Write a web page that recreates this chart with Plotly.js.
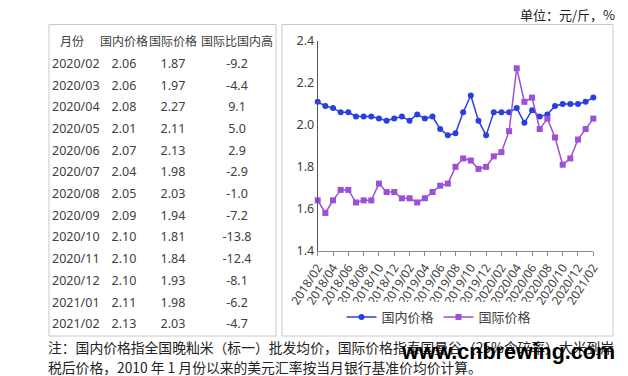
<!DOCTYPE html>
<html>
<head>
<meta charset="utf-8">
<script src="https://cdn.plot.ly/plotly-3.0.1.min.js"></script>
<style>html,body{margin:0;padding:0;background:#fff;}#chart{width:628px;height:376px;}</style>
</head>
<body>
<div id="chart"></div>
<script>
// ---- chart data ----
const months = ['2018/02','2018/03','2018/04','2018/05','2018/06','2018/07','2018/08','2018/09','2018/10','2018/11','2018/12',
  '2019/01','2019/02','2019/03','2019/04','2019/05','2019/06','2019/07','2019/08','2019/09','2019/10','2019/11','2019/12',
  '2020/01','2020/02','2020/03','2020/04','2020/05','2020/06','2020/07','2020/08','2020/09','2020/10','2020/11','2020/12',
  '2021/01','2021/02'];
const domestic = [2.11,2.09,2.08,2.06,2.06,2.04,2.04,2.04,2.03,2.02,2.03,
  2.04,2.02,2.05,2.03,2.04,1.98,1.95,1.96,2.06,2.14,2.02,1.95,
  2.06,2.06,2.06,2.08,2.01,2.07,2.04,2.05,2.09,2.10,2.10,2.10,
  2.11,2.13];
const international = [1.64,1.58,1.64,1.69,1.69,1.63,1.64,1.64,1.72,1.68,1.68,
  1.65,1.65,1.63,1.65,1.68,1.71,1.72,1.80,1.84,1.83,1.79,1.80,
  1.85,1.87,1.97,2.27,2.11,2.13,1.98,2.03,1.94,1.81,1.84,1.93,
  1.98,2.03];
const tickMonths = ['2018/02','2018/04','2018/06','2018/08','2018/10','2018/12','2019/02','2019/04','2019/06','2019/08',
  '2019/10','2019/12','2020/02','2020/04','2020/06','2020/08','2020/10','2020/12','2021/02'];

// ---- table data ----
const tableHeader = ['月份','国内价格','国际价格','国际比国内高'];
const tableMonth = ['2020/02','2020/03','2020/04','2020/05','2020/06','2020/07','2020/08','2020/09','2020/10','2020/11','2020/12','2021/01','2021/02'];
const tableDomestic = ['2.06','2.06','2.08','2.01','2.07','2.04','2.05','2.09','2.10','2.10','2.10','2.11','2.13'];
const tableIntl = ['1.87','1.97','2.27','2.11','2.13','1.98','2.03','1.94','1.81','1.84','1.93','1.98','2.03'];
const tableDiff = ['-9.2','-4.4','9.1','5.0','2.9','-2.9','-1.0','-7.2','-13.8','-12.4','-8.1','-6.2','-4.7'];

const seriesNames = ['国内价格','国际价格'];
const unitText = '单位：元/斤，%';
const noteLine1 = '注：国内价格指全国晚籼米（标一）批发均价，国际价格指泰国曼谷（25%含碎率）大米到岸';
const noteLine2 = '税后价格，2010 年 1 月份以来的美元汇率按当月银行基准价均价计算。';
const watermark = 'www.cnbrewing.com';

const W = 628, H = 376;
const px = v => v / W, py = v => 1 - v / H;

const sans = 'Noto Sans, "Noto Sans CJK SC", sans-serif';
const cjk = '"Noto Sans CJK SC", sans-serif';
const blue = '#2b3ee0', purple = '#9d4fd8';

const traces = [
  {
    type: 'table',
    domain: {x: [px(44), px(276)], y: [py(345), py(29)]},
    columnwidth: [56, 48, 50, 78],
    header: {
      values: tableHeader,
      align: ['center','center','center','center'],
      height: 21.5,
      font: {family: sans, size: 12, color: '#404040'},
      fill: {color: 'white'},
      line: {color: 'white', width: 0}
    },
    cells: {
      values: [tableMonth, tableDomestic, tableIntl, tableDiff],
      align: ['left','center','center','center'],
      height: 21.7,
      font: {family: sans, size: 12.5, color: '#404040'},
      fill: {color: 'white'},
      line: {color: 'white', width: 0}
    }
  },
  {
    type: 'scatter', mode: 'lines+markers', name: seriesNames[0],
    x: months, y: domestic, cliponaxis: false,
    line: {color: blue, width: 1.5},
    marker: {color: blue, size: 6, symbol: 'circle'}
  },
  {
    type: 'scatter', mode: 'lines+markers', name: seriesNames[1],
    x: months, y: international, cliponaxis: false,
    line: {color: purple, width: 1.5},
    marker: {color: purple, size: 6, symbol: 'square'}
  }
];

const layout = {
  width: W, height: H,
  margin: {l: 0, r: 0, t: 0, b: 0},
  paper_bgcolor: 'white', plot_bgcolor: 'white',
  showlegend: true,
  legend: {
    orientation: 'h', x: px(439), y: py(317), xanchor: 'center', yanchor: 'middle',
    font: {family: sans, size: 13, color: '#404040'}, itemwidth: 30, tracegroupgap: 0
  },
  xaxis: {
    domain: [px(317.7), px(593.3)],
    type: 'category', range: [0, 36],
    tickmode: 'array', tickvals: tickMonths, ticktext: tickMonths,
    tickangle: -57, ticks: 'outside', ticklen: 4, tickcolor: '#888',
    showline: true, linecolor: '#888', linewidth: 1,
    showgrid: false, zeroline: false,
    tickfont: {family: sans, size: 12, color: '#404040'}
  },
  yaxis: {
    domain: [py(250.7), py(41)],
    range: [1.4, 2.4], dtick: 0.2, tickformat: '.1f',
    showline: true, linecolor: '#555', linewidth: 1,
    showgrid: false, zeroline: false, ticks: '',
    tickfont: {family: sans, size: 12.5, color: '#404040'}
  },
  shapes: [
    {type: 'rect', xref: 'paper', yref: 'paper', x0: px(49), x1: px(276), y0: py(336), y1: py(24.5),
     line: {color: '#c8c8c8', width: 1}},
    {type: 'rect', xref: 'paper', yref: 'paper', x0: px(282), x1: px(613), y0: py(336), y1: py(24.5),
     line: {color: '#c8c8c8', width: 1}}
  ],
  annotations: [
    {text: unitText, xref: 'paper', yref: 'paper', x: px(617), y: py(14), xanchor: 'right', yanchor: 'middle',
     showarrow: false, font: {family: cjk, size: 13, color: '#222'}},
    {text: noteLine1, xref: 'paper', yref: 'paper', x: px(46), y: py(347), xanchor: 'left', yanchor: 'middle',
     showarrow: false, font: {family: cjk, size: 13.8, color: '#222'}},
    {text: noteLine2, xref: 'paper', yref: 'paper', x: px(46), y: py(367), xanchor: 'left', yanchor: 'middle',
     showarrow: false, font: {family: cjk, size: 13.8, color: '#222'}},
    {text: '<b>' + watermark + '</b>', xref: 'paper', yref: 'paper', x: px(617), y: py(352), xanchor: 'right', yanchor: 'middle',
     showarrow: false, font: {family: '"Liberation Sans", Arial, sans-serif', size: 21.5, color: '#000'}}
  ]
};

Plotly.newPlot('chart', traces, layout, {staticPlot: true, displayModeBar: false});
</script>
</body>
</html>
